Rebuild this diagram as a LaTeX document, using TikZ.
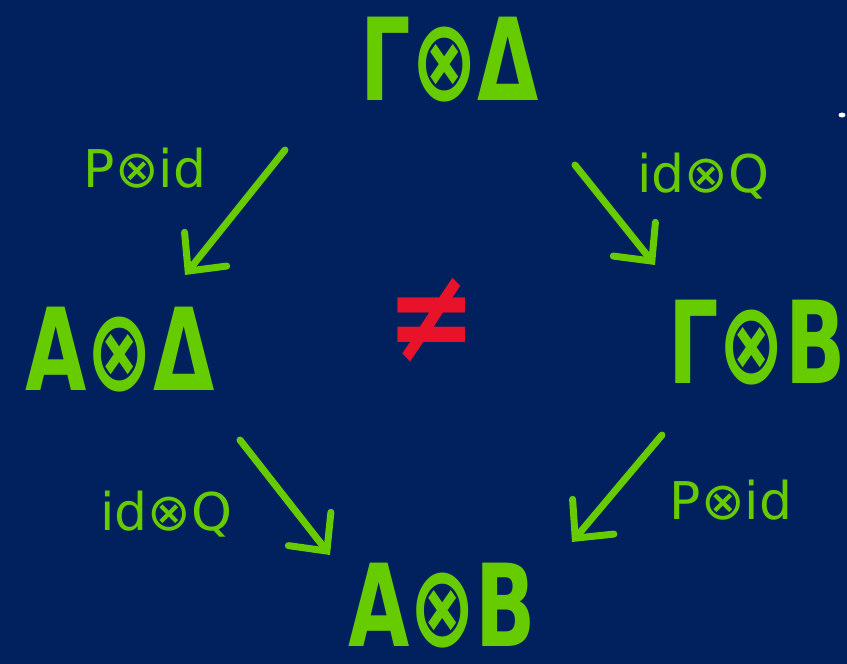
\documentclass[tikz,border=0pt]{standalone}
\usepackage{fontspec}
\setmainfont{DejaVu Sans}
\newfontfamily\condfont{DejaVu Sans Condensed}
\usepackage{xcolor}
\usetikzlibrary{arrows.meta,calc,shapes.geometric}
\definecolor{navy}{HTML}{01205E}
\definecolor{chalkgreen}{HTML}{66CC00}
\definecolor{chalkred}{HTML}{E8132A}
\newcommand{\tallobj}[1]{\scalebox{1}[1.3]{#1}}

\begin{document}
\begin{tikzpicture}[x=1pt, y=-1pt,
  obj/.style={text=chalkgreen, inner sep=0pt,
              font=\condfont\fontsize{88}{88}\selectfont\bfseries},
  lab/.style={text=chalkgreen, inner sep=0pt,
              font=\fontsize{52}{52}\selectfont},
  arr/.style={-{Straight Barb[length=28pt,width=54pt,line cap=round]},
              draw=chalkgreen, line width=7pt, line cap=round}
]
\fill[navy] (0,0) rectangle (847,664);
\useasboundingbox (0,0) rectangle (847,664);

\node[obj] (gd) at (450,60)  {\tallobj{Γ⊗Δ}};
\node[obj] (ad) at (120,350) {\tallobj{A⊗Δ}};
\node[obj] (gb) at (757,343) {\tallobj{Γ⊗B}};
\node[obj] (ab) at (442,606) {\tallobj{A⊗B}};
\node[text=chalkred, font=\fontsize{120}{120}\selectfont\bfseries] (neq) at (432,320) {\scalebox{0.9}[1.1]{≠}};
\node[fill=white, ellipse, inner sep=0pt, minimum width=7pt, minimum height=5pt] (dot) at (842,115) {};

\node[lab] (l1) at (145,168) {P⊗id};
\node[lab] (l2) at (703,176) {id⊗Q};
\node[lab] (l3) at (166,514) {id⊗Q};
\node[lab] (l4) at (731,500) {P⊗id};

\draw[arr] ($(gd.center)+(-165,90)$) -- ($(ad.center)+(65,-75)$);
\draw[arr] ($(gd.center)+(125,105)$) -- ($(gb.center)+(-102,-78)$);
\draw[arr] ($(ad.center)+(120,90)$)  -- ($(ab.center)+(-112,-51)$);
\draw[arr] ($(gb.center)+(-95,92)$)  -- ($(ab.center)+(130,-64)$);
\end{tikzpicture}
\end{document}
